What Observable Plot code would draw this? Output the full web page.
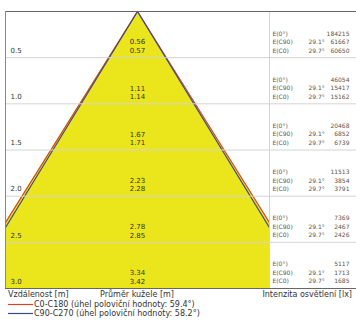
<!DOCTYPE html>
<html>
<head>
<meta charset="utf-8">
<script src="https://cdn.jsdelivr.net/npm/d3@7"></script>
<script src="https://cdn.jsdelivr.net/npm/@observablehq/plot@0.6"></script>
<style>
  html, body { margin: 0; padding: 0; background: #fff; }
  #wrap { width: 356px; font-family: "DejaVu Sans", Verdana, sans-serif; color: #333; }
  .axisrow { position: relative; height: 10px; font-size: 8px; line-height: 10px; }
  .axisrow span { position: absolute; top: 0; white-space: nowrap; }
  .leg { height: 9px; font-size: 8px; line-height: 9px; white-space: nowrap; display: flex; align-items: center; padding-left: 8px; }
  .leg svg { margin-right: 1px; }
</style>
</head>
<body>
<div id="wrap"></div>
<script>
// ---- data ----
const distances   = [0.5, 1.0, 1.5, 2.0, 2.5, 3.0];
const distLabels  = ["0.5", "1.0", "1.5", "2.0", "2.5", "3.0"];
const diamC90     = ["0.56", "1.11", "1.67", "2.23", "2.78", "3.34"];
const diamC0      = ["0.57", "1.14", "1.71", "2.28", "2.85", "3.42"];
const eCenter     = [184215, 46054, 20468, 11513, 7369, 5117];
const eC90        = [61667, 15417, 6852, 3854, 2467, 1713];
const eC0         = [60650, 15162, 6739, 3791, 2426, 1685];
const rowNames    = ["E(0°)", "E(C90)", "E(C0)"];
const angleC90    = "29.1°";
const angleC0     = "29.7°";
const seriesNames = ["C0-C180 (úhel poloviční hodnoty: 59.4°)", "C90-C270 (úhel poloviční hodnoty: 58.2°)"];
const seriesColors = ["#d9412b", "#3b4a8e"];
const xAxisTitles = ["Vzdálenost [m]", "Průměr kužele [m]", "Intenzita osvětlení [lx]"];

// ---- geometry from data ----
const maxD = distances[distances.length - 1];
const rC0 = +diamC0[diamC0.length - 1] / 2;
const rC90 = +diamC90[diamC90.length - 1] / 2;
const halfW = 1.303;     // half width of cone panel in metres
const xMax = 2.162;      // right end including table
const cone = [{d: 0, r0: 0}, {d: maxD, r0: rC0}];
const lineC0 = [{x: -rC0, d: maxD}, {x: 0, d: 0}, {x: rC0, d: maxD}];
const lineC90 = [{x: -rC90, d: maxD}, {x: 0, d: 0}, {x: rC90, d: maxD}];

const rows = distances.map((d, i) => ({
  d, label: distLabels[i], c90: diamC90[i], c0: diamC0[i],
  e0: String(eCenter[i]), e90: String(eC90[i]), ec0: String(eC0[i])
}));

const tfs = 6;
const tfill = "#555";
const chart = Plot.plot({
  width: 356,
  height: 290,
  marginTop: 11,
  marginBottom: 2,
  marginLeft: 5,
  marginRight: 0,
  x: {domain: [-halfW, xMax], axis: null},
  y: {domain: [0, maxD], axis: null, reverse: true},
  style: {fontFamily: "DejaVu Sans, Verdana, sans-serif", fontSize: "7px", background: "white"},
  marks: [
    Plot.areaX(cone, {y: "d", x1: d => -d.r0, x2: "r0", fill: "#ebe51c", clip: true}),
    Plot.line(lineC0, {x: "x", y: "d", stroke: seriesColors[0], strokeWidth: 1.2, clip: true}),
    Plot.line(lineC90, {x: "x", y: "d", stroke: seriesColors[1], strokeWidth: 1.2, clip: true}),
    Plot.rect([0], {x1: halfW, x2: xMax, y1: 0, y2: maxD, fill: "white"}),
    Plot.ruleY(distances.slice(0, -1), {stroke: "#d4d4d4", strokeWidth: 1}),
    Plot.ruleX([halfW], {stroke: "#d4d4d4", strokeWidth: 1}),
    Plot.ruleY([0], {stroke: "#666", strokeWidth: 1}),
    Plot.ruleY([maxD], {stroke: "#666", strokeWidth: 1}),
    Plot.ruleX([-halfW], {stroke: "#888", strokeWidth: 1}),
    Plot.text(rows, {x: -halfW, y: "d", text: "label", dx: 5, dy: -7, textAnchor: "start", fill: "#333"}),
    Plot.text(rows, {x: 0, y: "d", text: "c90", dy: -15.5, fill: "#333"}),
    Plot.text(rows, {x: 0, y: "d", text: "c0", dy: -7, fill: "#333"}),
    Plot.text(rows, {x: halfW, y: "d", text: () => rowNames[0], dx: 3, dy: -24, textAnchor: "start", fill: tfill, fontSize: tfs}),
    Plot.text(rows, {x: halfW, y: "d", text: () => rowNames[1], dx: 3, dy: -15.5, textAnchor: "start", fill: tfill, fontSize: tfs}),
    Plot.text(rows, {x: halfW, y: "d", text: () => rowNames[2], dx: 3, dy: -7, textAnchor: "start", fill: tfill, fontSize: tfs}),
    Plot.text(rows, {x: halfW, y: "d", text: () => angleC90, dx: 39, dy: -15.5, textAnchor: "start", fill: tfill, fontSize: tfs}),
    Plot.text(rows, {x: halfW, y: "d", text: () => angleC0, dx: 39, dy: -7, textAnchor: "start", fill: tfill, fontSize: tfs}),
    Plot.text(rows, {x: halfW, y: "d", text: "e0", dx: 80, dy: -24, textAnchor: "end", fill: tfill, fontSize: tfs}),
    Plot.text(rows, {x: halfW, y: "d", text: "e90", dx: 80, dy: -15.5, textAnchor: "end", fill: tfill, fontSize: tfs}),
    Plot.text(rows, {x: halfW, y: "d", text: "ec0", dx: 80, dy: -7, textAnchor: "end", fill: tfill, fontSize: tfs})
  ]
});

const wrap = document.getElementById("wrap");
wrap.appendChild(chart);

const axisRow = document.createElement("div");
axisRow.className = "axisrow";
axisRow.innerHTML =
  `<span style="left:8px">${xAxisTitles[0]}</span>` +
  `<span style="left:137px;transform:translateX(-50%)">${xAxisTitles[1]}</span>` +
  `<span style="right:4px">${xAxisTitles[2]}</span>`;
wrap.appendChild(axisRow);

seriesNames.forEach((name, i) => {
  const row = document.createElement("div");
  row.className = "leg";
  row.innerHTML = `<svg width="25" height="3"><line x1="0" x2="25" y1="1.5" y2="1.5" stroke="${seriesColors[i]}" stroke-width="1.2"/></svg><span>${name}</span>`;
  wrap.appendChild(row);
});
</script>
</body>
</html>
